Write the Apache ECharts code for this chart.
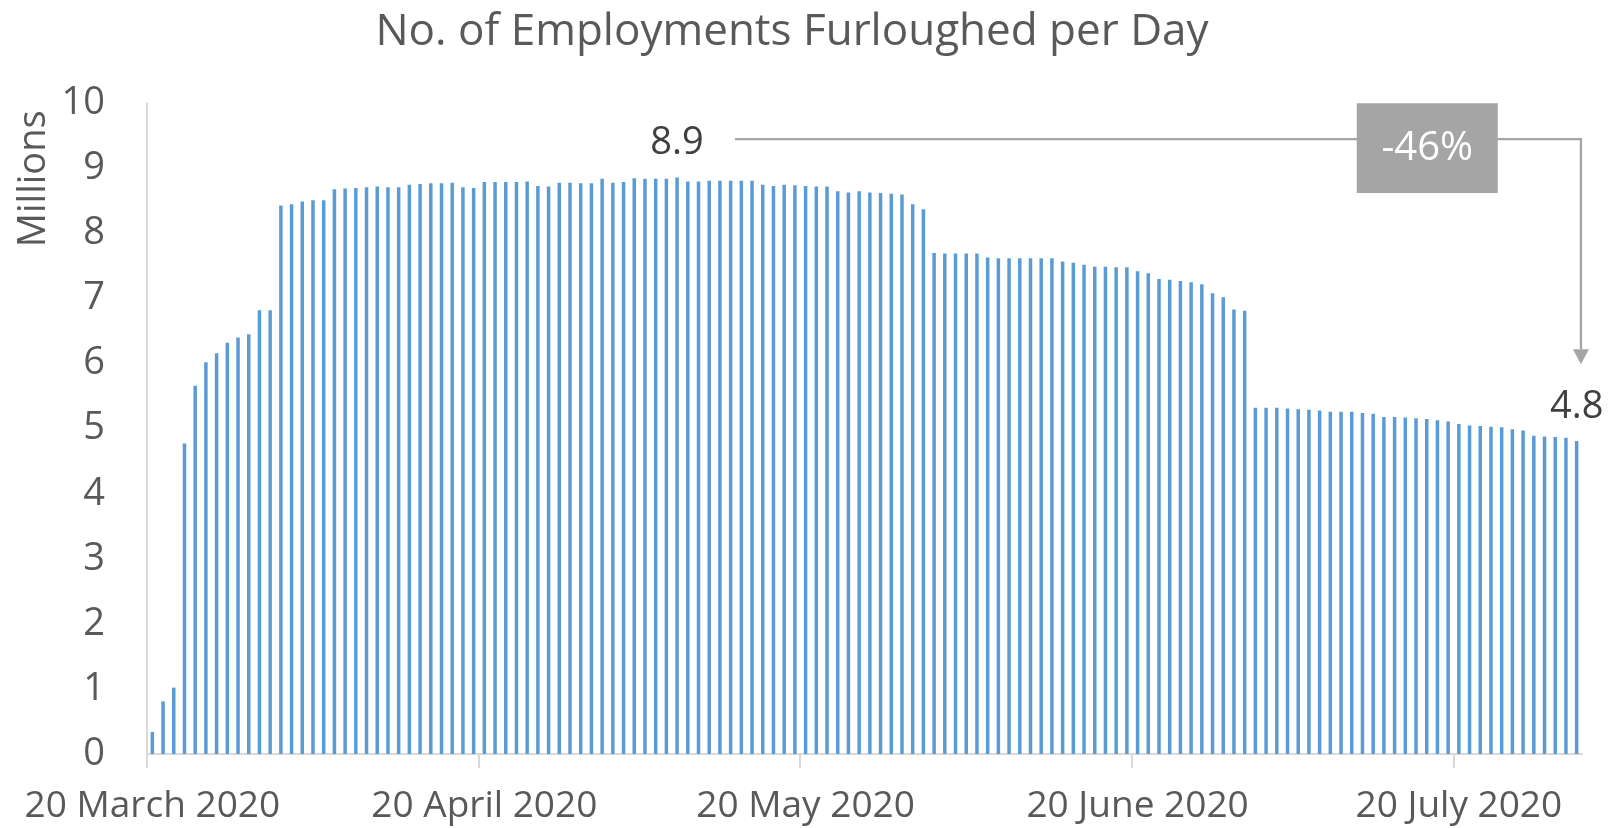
<!DOCTYPE html>
<html>
<head>
<meta charset="utf-8">
<script src="https://cdn.jsdelivr.net/npm/echarts@6/dist/echarts.min.js"></script>
<style>
html,body{margin:0;padding:0;background:#fff;}
#main{width:1616px;height:828px;}
</style>
</head>
<body>
<div id="main"></div>
<script>
// ---- Data ----
const chartTitle = 'No. of Employments Furloughed per Day';
const yAxisName = 'Millions';
const categories = [
 '2020-03-20','2020-03-21','2020-03-22','2020-03-23','2020-03-24','2020-03-25','2020-03-26','2020-03-27','2020-03-28','2020-03-29','2020-03-30','2020-03-31',
 '2020-04-01','2020-04-02','2020-04-03','2020-04-04','2020-04-05','2020-04-06','2020-04-07','2020-04-08','2020-04-09','2020-04-10',
 '2020-04-11','2020-04-12','2020-04-13','2020-04-14','2020-04-15','2020-04-16','2020-04-17','2020-04-18','2020-04-19','2020-04-20',
 '2020-04-21','2020-04-22','2020-04-23','2020-04-24','2020-04-25','2020-04-26','2020-04-27','2020-04-28','2020-04-29','2020-04-30',
 '2020-05-01','2020-05-02','2020-05-03','2020-05-04','2020-05-05','2020-05-06','2020-05-07','2020-05-08','2020-05-09','2020-05-10',
 '2020-05-11','2020-05-12','2020-05-13','2020-05-14','2020-05-15','2020-05-16','2020-05-17','2020-05-18','2020-05-19','2020-05-20',
 '2020-05-21','2020-05-22','2020-05-23','2020-05-24','2020-05-25','2020-05-26','2020-05-27','2020-05-28','2020-05-29','2020-05-30','2020-05-31',
 '2020-06-01','2020-06-02','2020-06-03','2020-06-04','2020-06-05','2020-06-06','2020-06-07','2020-06-08','2020-06-09','2020-06-10',
 '2020-06-11','2020-06-12','2020-06-13','2020-06-14','2020-06-15','2020-06-16','2020-06-17','2020-06-18','2020-06-19','2020-06-20',
 '2020-06-21','2020-06-22','2020-06-23','2020-06-24','2020-06-25','2020-06-26','2020-06-27','2020-06-28','2020-06-29','2020-06-30',
 '2020-07-01','2020-07-02','2020-07-03','2020-07-04','2020-07-05','2020-07-06','2020-07-07','2020-07-08','2020-07-09','2020-07-10',
 '2020-07-11','2020-07-12','2020-07-13','2020-07-14','2020-07-15','2020-07-16','2020-07-17','2020-07-18','2020-07-19','2020-07-20',
 '2020-07-21','2020-07-22','2020-07-23','2020-07-24','2020-07-25','2020-07-26','2020-07-27','2020-07-28','2020-07-29','2020-07-30','2020-07-31'
];
// millions of employments furloughed, per day
const furloughed = [
 0.34,0.81,1.02,4.77,5.66,6.02,6.16,6.32,6.40,6.45,6.82,6.82,
 8.43,8.45,8.49,8.51,8.51,8.68,8.69,8.70,8.71,8.72,
 8.71,8.71,8.75,8.76,8.77,8.77,8.78,8.71,8.70,8.79,
 8.79,8.79,8.79,8.80,8.73,8.72,8.78,8.78,8.77,8.77,
 8.84,8.78,8.79,8.85,8.84,8.84,8.84,8.86,8.80,8.80,
 8.81,8.81,8.81,8.81,8.81,8.75,8.73,8.75,8.74,8.73,
 8.72,8.72,8.65,8.63,8.65,8.63,8.62,8.61,8.60,8.45,8.37,
 7.70,7.69,7.69,7.69,7.69,7.63,7.62,7.62,7.62,7.62,
 7.62,7.62,7.57,7.55,7.52,7.49,7.49,7.48,7.48,7.42,
 7.39,7.30,7.29,7.27,7.25,7.22,7.08,7.02,6.83,6.81,
 5.32,5.32,5.32,5.31,5.30,5.29,5.28,5.26,5.26,5.26,
 5.24,5.23,5.18,5.18,5.17,5.16,5.15,5.13,5.11,5.07,
 5.05,5.04,5.03,5.02,4.99,4.97,4.89,4.88,4.87,4.86,4.81
];
const tickDates  = ['2020-03-20','2020-04-20','2020-05-20','2020-06-20','2020-07-20'];
const tickLabels = ['20 March 2020','20 April 2020','20 May 2020','20 June 2020','20 July 2020'];
const yTicks = [0,1,2,3,4,5,6,7,8,9,10];

// ---- Derived ----
const peakIdx = furloughed.indexOf(Math.max.apply(null, furloughed));
const lastIdx = furloughed.length - 1;
const changePct = Math.round((furloughed[lastIdx] / furloughed[peakIdx] - 1) * 100);
const tickIdx = tickDates.map(d => categories.indexOf(d));

const FONT = '"Open Sans", sans-serif';
const GREY_TEXT = '#595959';
const ANNO = '#A5A5A5';
const AXIS = '#d9d9d9';

const seriesData = furloughed.map((v, i) => {
  if (i === peakIdx || i === lastIdx) {
    return { value: v, label: { show: true } };
  }
  return v;
});

const chart = echarts.init(document.getElementById('main'), null, { renderer: 'canvas' });

const option = {
  animation: false,
  backgroundColor: '#ffffff',
  title: {
    text: chartTitle,
    left: 792,
    top: 10,
    padding: 0,
    textAlign: 'center',
    textStyle: { fontFamily: FONT, fontSize: 44, fontWeight: 'normal', color: GREY_TEXT }
  },
  grid: { left: 147, right: 34, top: 103.3, bottom: 74, containLabel: false },
  xAxis: [{
    type: 'category',
    data: categories,
    boundaryGap: true,
    position: 'bottom',
    axisLine: { show: true, lineStyle: { color: AXIS, width: 2 } },
    axisTick: { show: false },
    axisLabel: {
      show: true,
      interval: (idx, val) => tickDates.indexOf(val) >= 0,
      formatter: (val) => tickLabels[tickDates.indexOf(val)],
      fontFamily: FONT,
      fontSize: 37,
      color: GREY_TEXT,
      margin: 34
    },
    splitLine: { show: false }
  }, {
    // day-boundary axis used only for the tick marks at the start of each labelled day
    type: 'value',
    position: 'bottom',
    min: 0,
    max: categories.length,
    axisLine: { show: false },
    axisLabel: { show: false },
    splitLine: { show: false },
    axisTick: { show: true, length: 14, customValues: tickIdx, lineStyle: { color: AXIS, width: 2 } }
  }],
  yAxis: {
    type: 'value',
    min: yTicks[0],
    max: yTicks[yTicks.length - 1],
    interval: 1,
    axisLine: { show: true, lineStyle: { color: AXIS, width: 2 } },
    axisTick: { show: false },
    splitLine: { show: false },
    axisLabel: { fontFamily: FONT, fontSize: 38, color: GREY_TEXT, margin: 42 }
  },
  series: [{
    type: 'bar',
    xAxisIndex: 0,
    data: seriesData,
    barWidth: 3.5,
    itemStyle: { color: '#5B9BD5' },
    label: {
      show: false,
      position: 'top',
      distance: 15,
      fontFamily: FONT,
      fontSize: 38,
      color: '#404040',
      formatter: (p) => p.value.toFixed(1)
    }
  }]
};
chart.setOption(option);

// ---- Annotation (positioned in data space) ----
function px(i) {
  const a = chart.convertToPixel({ xAxisIndex: 0 }, 0);
  const b = chart.convertToPixel({ xAxisIndex: 0 }, 1);
  return a + (b - a) * i;
}
function py(v) { return chart.convertToPixel({ yAxisIndex: 0 }, v); }

const connY = py(9.45);
const xStart = px(peakIdx + 5.4);
const xEnd = px(lastIdx + 0.4);
const tipY = py(5.99);
const headH = 15, headW = 8;
const boxCx = px(119.05);
const boxTop = py(10);
const boxBottom = py(8.62);
const boxW = 141;

chart.setOption({
  graphic: [
    {
      type: 'text', z: 10,
      x: 34, y: py(8.84), rotation: Math.PI / 2,
      style: { text: yAxisName, font: '38px ' + FONT, fill: GREY_TEXT,
               align: 'center', verticalAlign: 'middle', textAlign: 'center', textVerticalAlign: 'middle' }
    },
    {
      type: 'polyline', z: 5,
      shape: { points: [[xStart, connY], [xEnd, connY], [xEnd, tipY - headH]] },
      style: { stroke: ANNO, lineWidth: 2.3, fill: null }
    },
    {
      type: 'polygon', z: 5,
      shape: { points: [[xEnd - headW, tipY - headH], [xEnd + headW, tipY - headH], [xEnd, tipY]] },
      style: { fill: ANNO }
    },
    {
      type: 'rect', z: 6,
      shape: { x: boxCx - boxW / 2, y: boxTop, width: boxW, height: boxBottom - boxTop },
      style: { fill: ANNO }
    },
    {
      type: 'text', z: 7,
      x: boxCx, y: (boxTop + boxBottom) / 2,
      style: { text: (changePct > 0 ? '+' : '') + changePct + '%', font: '40px ' + FONT, fill: '#ffffff',
               align: 'center', verticalAlign: 'middle', textAlign: 'center', textVerticalAlign: 'middle' }
    }
  ]
});
</script>
</body>
</html>
